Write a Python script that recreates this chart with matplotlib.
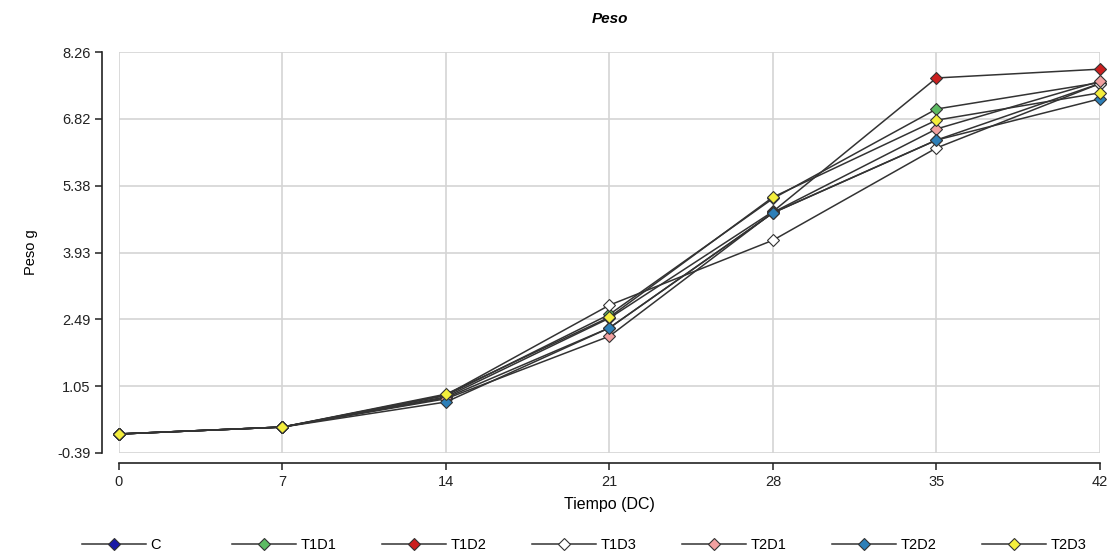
import matplotlib
matplotlib.use("Agg")
import matplotlib.pyplot as plt

plt.rcParams["font.family"] = ["Liberation Sans", "DejaVu Sans"]

dias = [0, 7, 14, 21, 28, 35, 42]
yticks = [-0.39, 1.05, 2.49, 3.93, 5.38, 6.82, 8.26]

series = ["C", "T1D1", "T1D2", "T1D3", "T2D1", "T2D2", "T2D3"]
peso_c = [0.02, 0.17, 0.80, 2.31, 4.79, 6.36, 7.58]
peso_t1d1 = [0.02, 0.17, 0.85, 2.60, 5.10, 7.03, 7.60]
peso_t1d2 = [0.02, 0.17, 0.82, 2.52, 4.82, 7.70, 7.89]
peso_t1d3 = [0.02, 0.17, 0.86, 2.80, 4.20, 6.19, 7.58]
peso_t2d1 = [0.02, 0.17, 0.78, 2.13, 4.80, 6.60, 7.63]
peso_t2d2 = [0.02, 0.17, 0.71, 2.31, 4.79, 6.36, 7.25]
peso_t2d3 = [0.02, 0.17, 0.88, 2.54, 5.13, 6.79, 7.38]
valores = [peso_c, peso_t1d1, peso_t1d2, peso_t1d3, peso_t2d1, peso_t2d2, peso_t2d3]

colores = ["#1a1aa6", "#5dbb63", "#cc1f1f", "#ffffff", "#f2a0a0", "#2d7fb8", "#f4ee3c"]

fig = plt.figure(figsize=(11.17, 5.56), dpi=100)
ax = fig.add_axes([119 / 1117, 103 / 556, 981 / 1117, 401 / 556])

lineas = []
for nombre, vals, col in zip(series, valores, colores):
    ln, = ax.plot(dias, vals, color="#333333", lw=1.1, marker="D", markersize=6,
                  markerfacecolor=col, markeredgecolor="#333333", markeredgewidth=0.8,
                  label=nombre, clip_on=False)
    lineas.append(ln)

ax.set_xlim(0, 42)
ax.set_ylim(-0.39, 8.26)
ax.set_xticks(dias)
ax.set_yticks(yticks)
ax.set_yticklabels(["%.2f" % v for v in yticks])
ax.grid(True, color="#d4d4d4", lw=1.2)
ax.set_axisbelow(True)

for s in ["top", "right"]:
    ax.spines[s].set_visible(False)
ax.spines["left"].set_position(("outward", 12))
ax.spines["bottom"].set_position(("outward", 7))
for s in ["left", "bottom"]:
    ax.spines[s].set_color("#222222")
    ax.spines[s].set_linewidth(1.2)
ax.tick_params(axis="both", colors="#222222", labelsize=10.5, length=5, width=1.1)

ax.set_title("Peso", fontsize=11, fontweight="bold", style="italic", pad=21)
ax.set_ylabel("Peso g", fontsize=10.5, labelpad=14)
ax.set_xlabel("Tiempo (DC)", fontsize=11.5, labelpad=6)

# one legend per series so the entries sit at an even spacing like the original
for i, ln in enumerate(lineas):
    fig.legend(handles=[ln], loc="center left",
               bbox_to_anchor=((82 + 150 * i) / 1117, 11 / 556),
               frameon=False, fontsize=10.5, handlelength=4.4, handletextpad=0.3,
               borderpad=0, borderaxespad=0, markerscale=1.1)

fig.savefig("out.png", dpi=100)
